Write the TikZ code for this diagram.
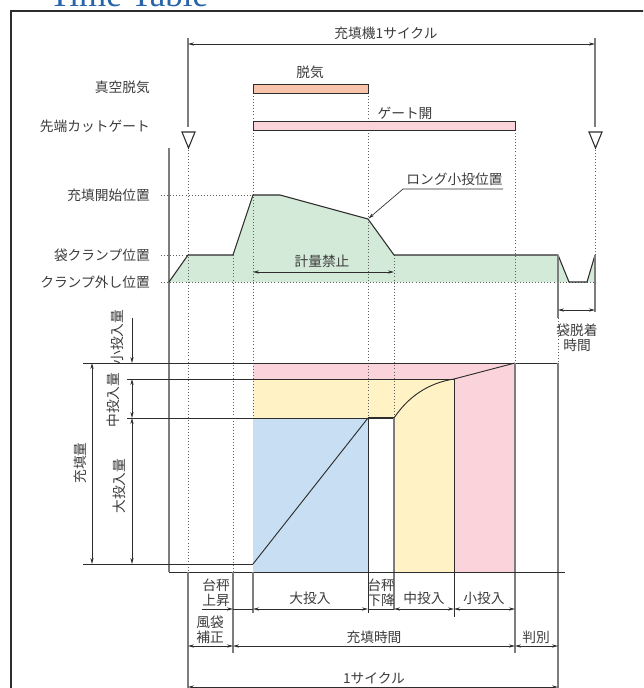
\documentclass[tikz,border=0pt]{standalone}
\usepackage{fontspec}
\setmainfont{Liberation Serif}
\newfontfamily\cjk{Noto Sans CJK JP}
\usetikzlibrary{arrows.meta}
\definecolor{txt}{RGB}{60,60,60}
\definecolor{ln}{RGB}{45,45,45}
\definecolor{gln}{RGB}{125,125,125}
\definecolor{dotc}{RGB}{95,95,95}
\definecolor{salmonf}{RGB}{249,196,172}
\definecolor{pinkf}{RGB}{250,212,218}
\definecolor{greenf}{RGB}{212,234,216}
\definecolor{bluef}{RGB}{200,223,243}
\definecolor{yellowf}{RGB}{255,243,198}
\definecolor{titleblue}{RGB}{40,100,170}
\begin{document}
\begin{tikzpicture}[x=0.75pt,y=-0.75pt,
  lbl/.style={font=\cjk\fontsize{10.3}{11.3}\selectfont, text=txt, inner sep=0pt, align=center},
  lbll/.style={lbl, anchor=east},
  vlbl/.style={lbl, rotate=90},
  dotl/.style={dotc, line width=0.6pt, dash pattern=on 0.6pt off 1.7pt},
  solid/.style={ln, line width=0.7pt},
  gsolid/.style={gln, line width=0.9pt},
  tip/.tip={Stealth[length=4.5pt,width=2.4pt]},
  dim/.style={ln, line width=0.5pt, {tip}-{tip}},
  dimr/.style={ln, line width=0.5pt, -{tip}},
  bar/.style={ln, line width=0.7pt},
  tri/.style={ln, line width=0.8pt}
]
\clip (0,0) rectangle (643,688);
\fill[white] (0,0) rectangle (643,688);
% frame and title
\draw[ln, line width=0.9pt] (11,700) -- (11,11) -- (660,11);
\node[font=\fontsize{26.3}{26.3}\selectfont, text=titleblue, anchor=base west, inner sep=0pt] (title) at (49,7) {Time Table};

% ---------- fills ----------
\fill[greenf] (169,282) -- (188,255) -- (233,255) -- (253,195) -- (280,195) -- (368,219) -- (394,255) -- (558,255) -- (569,282) -- cycle;
\fill[greenf] (587,282) -- (595,255) -- (595,282) -- cycle;
\fill[pinkf] (253,363) rectangle (515,379);
\fill[pinkf] (454,379) rectangle (515,572);
\fill[yellowf] (253,379) rectangle (394,418);
\fill[yellowf] (394,379) rectangle (454,572);
\fill[bluef] (253,418) rectangle (368,572);

% ---------- dotted guides ----------
\draw[dotl] (188,150) -- (188,572);
\draw[dotl] (233,255) -- (233,572);
\draw[dotl] (253,93) -- (253,418);
\draw[dotl] (368,93) -- (368,418);
\draw[dotl] (394,255) -- (394,418);
\draw[dotl] (515,130) -- (515,363);
\draw[dotl] (558,318) -- (558,363);
\draw[dotl] (595,150) -- (595,255);
\draw[dotl] (161,195) -- (253,195);
\draw[dotl] (161,255) -- (188,255);
\draw[dotl] (161,282) -- (595,282);

% ---------- top part ----------
\coordinate (cs) at (188,44);
\coordinate (ce) at (595,44);
\draw[gsolid] (188,38) -- (188,127);
\draw[gsolid] (595,38) -- (595,127);
\draw[dim] (cs) -- (ce);
\node[lbl] (cyc) at (386,33) {充填機1サイクル};
\draw[tri] (182,132) -- (195,132) -- (188.5,148) -- cycle;
\draw[tri] (589,132) -- (602,132) -- (595.5,148) -- cycle;

\draw[bar, fill=salmonf] (253,84) rectangle (368,93);
\draw[bar, fill=pinkf] (253,121) rectangle (515,130);
\node[lbl] (datsu) at (310,72) {脱気};
\node[lbl] (gate) at (405,113) {ゲート開};

\node[lbll] (l1) at (150,87) {真空脱気};
\node[lbll] (l2) at (150,126) {先端カットゲート};
\node[lbll] (l3) at (150,195) {充填開始位置};
\node[lbll] (l4) at (150,255) {袋クランプ位置};
\node[lbll] (l5) at (150,282) {クランプ外し位置};

% profile
\draw[gsolid] (169,148) -- (169,572);
\draw[ln, line width=0.8pt] (169,282) -- (188,255) -- (233,255) -- (253,195) -- (280,195) -- (368,219) -- (394,255) -- (558,255) -- (569,282) -- (587,282) -- (595,255);
\draw[gsolid] (558,255) -- (558,318);
\draw[gsolid] (595,255) -- (595,312);

% 計量禁止
\draw[dim] (253,272) -- (394,272);
\node[lbl] (keiryo) at (322,261) {計量禁止};
% ロング小投位置
\coordinate (lp) at (368.5,218.5);
\coordinate (lk) at (403,189);
\coordinate (le) at (503,189);
\draw[dimr] (le) -- (lk) -- (lp);
\node[lbl] (long) at (454.5,179) {ロング小投位置};
% 袋脱着時間
\draw[dim] (558,310) -- (595,310);
\node[lbl] (fukuro) at (577,338) {袋脱着\\時間};

% ---------- bottom chart ----------
\draw[solid] (83,363) -- (558,363);
\draw[solid] (127,379) -- (454,379);
\draw[solid] (127,418) -- (368,418);
\draw[ln, line width=1.5pt] (368,418) -- (394,418);
\draw[solid] (83,564) -- (253,564);
\draw[solid] (253,564) -- (368,418);
\draw[solid] (394,418) .. controls (408,397) and (428,383) .. (454,379);
\draw[solid] (454,379) -- (515,363);
\draw[solid] (368,418) -- (368,613);
\draw[gsolid] (394,418) -- (394,610);
\draw[solid] (454,379) -- (454,617);
\draw[gsolid] (515,363) -- (515,653);
\draw[gsolid] (558,363) -- (558,688);
\draw[solid] (169,572) -- (565,572);
\draw[gsolid] (188,572) -- (188,688);
\draw[gsolid] (233,572) -- (233,653);
\draw[gsolid] (253,572) -- (253,613);

% left dimensions
\draw[dim] (92,363) -- (92,564);
\node[vlbl] (juten) at (80,463) {充填量};
\draw[dimr] (132,318) -- (132,363);
\draw[dim] (132,379) -- (132,418);
\draw[dim] (132,418) -- (132,564);
\node[vlbl] (sho) at (117,337) {小投入量};
\node[vlbl] (chu) at (113,400) {中投入量};
\node[vlbl] (dai) at (119,486) {大投入量};

% bottom rows
\draw[dimr] (202,609) -- (233,609);
\draw[ln, line width=0.5pt] (233,609) -- (253,609);
\draw[dim] (253,609) -- (368,609);
\draw[ln, line width=0.5pt] (368,609) -- (394,609);
\draw[dim] (394,609) -- (454,609);
\draw[dim] (454,609) -- (515,609);
\node[lbl] (r1a) at (216,593) {台秤\\上昇};
\node[lbl] (r1b) at (310,598) {大投入};
\node[lbl] (r1c) at (381,593) {台秤\\下降};
\node[lbl] (r1d) at (424,598) {中投入};
\node[lbl] (r1e) at (484,598) {小投入};

\draw[dim] (188,646) -- (233,646);
\draw[dim] (233,646) -- (515,646);
\draw[dim] (515,646) -- (558,646);
\node[lbl] (r2a) at (210,630) {風袋\\補正};
\node[lbl] (r2b) at (374,637) {充填時間};
\node[lbl] (r2c) at (536,637) {判別};

\draw[dim] (188,687) -- (558,687);
\node[lbl] (r3) at (374,678) {1サイクル};
\end{tikzpicture}
\end{document}
